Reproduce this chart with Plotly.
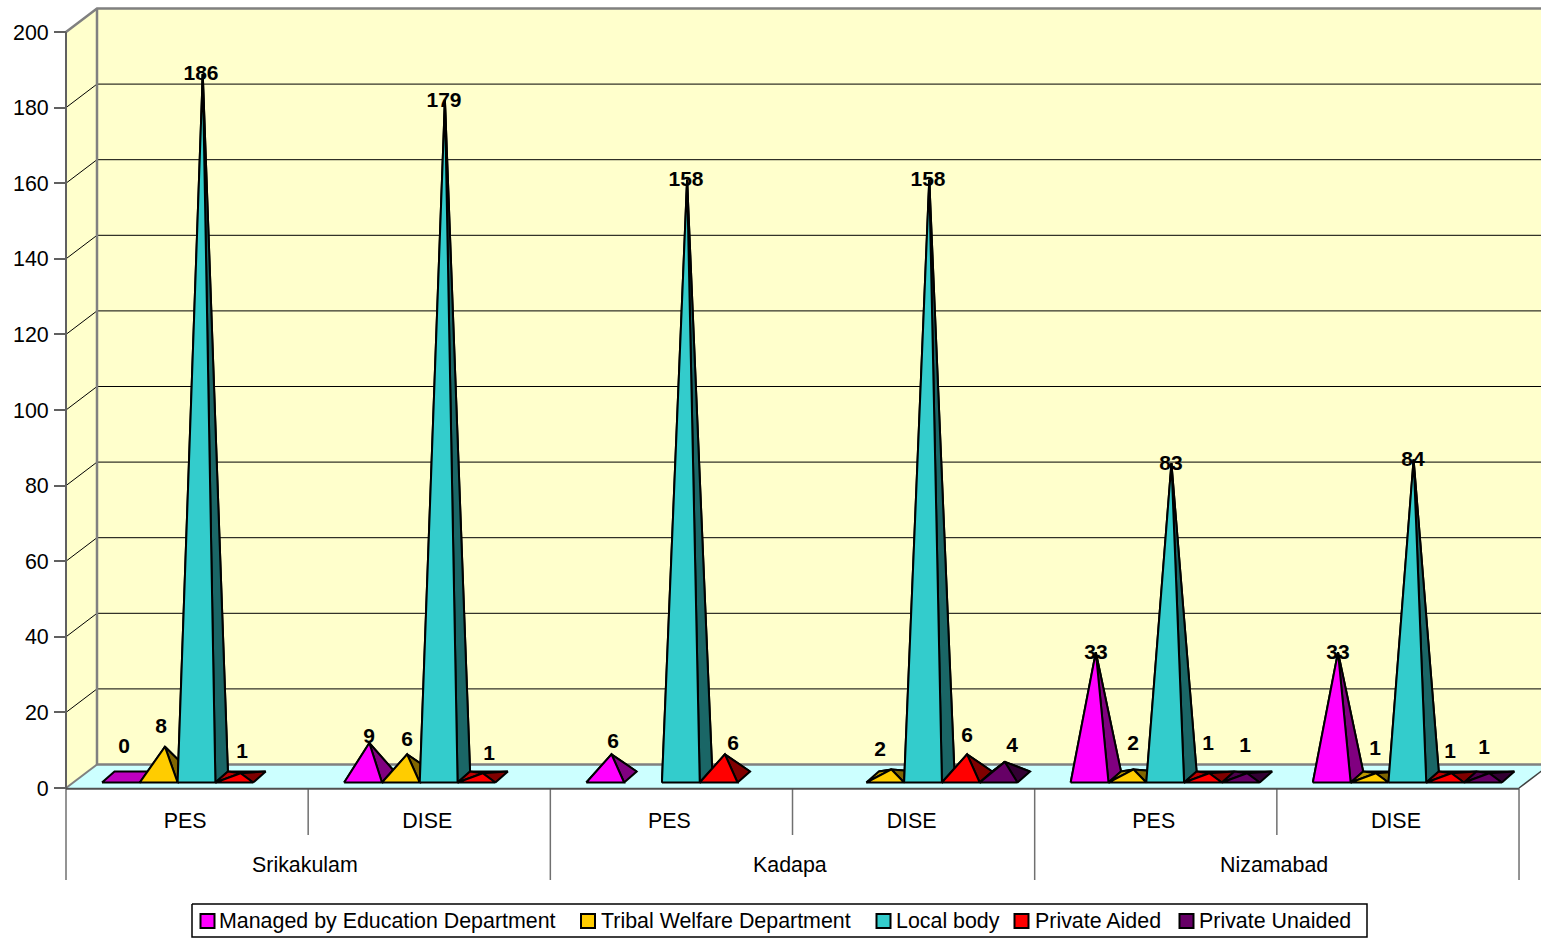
import plotly.graph_objects as go

# ---------- data ----------
districts = ["Srikakulam", "Kadapa", "Nizamabad"]
surveys = ["PES", "DISE", "PES", "DISE", "PES", "DISE"]
y_ticks = [0, 20, 40, 60, 80, 100, 120, 140, 160, 180, 200]

series_names = ["Managed by Education Department", "Tribal Welfare Department",
                "Local body", "Private Aided", "Private Unaided"]
managed = [0, 9, 6, None, 33, 33]
tribal = [8, 6, None, 2, 2, 1]
local_body = [186, 179, 158, 158, 83, 84]
private_aided = [1, 1, 6, 6, 1, 1]
private_unaided = [None, None, None, 4, 1, 1]
series_values = [managed, tribal, local_body, private_aided, private_unaided]

# ---------- style ----------
front_col = ["#FF00FF", "#FFCC00", "#33CCCC", "#FF0000", "#660066"]
left_col = ["#BF00BF", "#BF9900", "#269999", "#BF0000", "#4D004D"]
right_col = ["#800080", "#806600", "#1A6666", "#800000", "#330033"]
WALL = "#FFFFCC"
FLOOR = "#CCFFFF"
EDGE = "#808080"
FONT = "Liberation Sans"
TEXT_SIZE = 21.4
LABEL_SIZE = 21

# label placement, page pixels, per series and category
label_x_px = [[124, 369, 613, None, 1096, 1338],
              [161, 407, None, 880, 1133, 1375],
              [201, 444, 686, 928, 1171, 1413],
              [242, 489, 733, 967, 1208, 1450],
              [None, None, None, 1012, 1245, 1484]]
label_y_px = [[748, 738, 743, None, 654, 654],
              [728, 741, None, 751, 745, 750],
              [75, 102, 181, 181, 465, 461],
              [753, 755, 745, 737, 745, 753],
              [None, None, None, 747, 747, 749]]

# legend placement, page pixels
legend_box_px = (192, 1367, 904, 937)
legend_swatch_x_px = [207.5, 588, 883.5, 1021.5, 1186.5]
legend_text_x_px = [219, 601, 896, 1035, 1199]
legend_y_px = 921

# ---------- scale ----------
W, H = 1541, 938
X0_PX, Y0_PX = 66, 788        # page position of category 0 / value 0
CAT_PX, VAL_PX = 242.17, 3.78  # pixels per category / per value unit


def ux(px):
    return px / CAT_PX


def uy(px):
    return px / VAL_PX


def px_x(px):
    return (px - X0_PX) / CAT_PX


def px_y(px):
    return (Y0_PX - px) / VAL_PX


n_cat = len(surveys)
depth_x, depth_y = ux(31), uy(23.5)
bar_w = ux(37.8)
bar_start = ux(36)
base_dx = ux(12.5)
base_front_y = uy(5.5)
base_back_y = uy(16.5)
base_mid_y = (base_front_y + base_back_y) / 2

fig = go.Figure()


def poly(xs, ys, fill=None, line=EDGE, width=1):
    fig.add_trace(go.Scatter(
        x=xs, y=ys, mode="lines", showlegend=False, hoverinfo="skip", cliponaxis=False,
        fill="toself" if fill else None, fillcolor=fill,
        line=dict(color=line, width=width),
    ))


# walls and floor
top = 200
right_end = n_cat + depth_x
poly([0, depth_x, depth_x, 0, 0], [0, depth_y, top + depth_y, top, 0], WALL, WALL, 0.5)
poly([depth_x, right_end, right_end, depth_x, depth_x],
     [depth_y, depth_y, top + depth_y, top + depth_y, depth_y], WALL, WALL, 0.5)
poly([0, depth_x, right_end, n_cat, 0], [0, depth_y, depth_y, 0, 0], FLOOR, FLOOR, 0.5)

# gridlines
grid_x, grid_y = [], []
for t in y_ticks[1:-1]:
    grid_x += [0, depth_x, right_end, None]
    grid_y += [t, t + depth_y, t + depth_y, None]
poly(grid_x, grid_y, None, "#000000", 1)

# frame edges
poly([0, depth_x, right_end], [top, top + depth_y, top + depth_y], None, EDGE, 2.5)
poly([depth_x, depth_x, right_end], [top + depth_y, depth_y, depth_y], None, EDGE, 2.5)
poly([0, depth_x], [0, depth_y], None, EDGE, 2)
poly([n_cat, right_end], [0, depth_y], None, "#404040", 1.5)

# category separators beneath the floor
low_tall, low_short = px_y(880), px_y(835)
sep_x, sep_y = [], []
for i in range(n_cat + 1):
    sep_x += [i, i, None]
    sep_y += [0, low_tall if i % 2 == 0 else low_short, None]
poly(sep_x, sep_y, None, "#707070", 1.5)
poly([0, 0], [0, top], None, "#606060", 2)
poly([0, n_cat], [-0.2, -0.2], None, "#505050", 2)

# pyramids, painted back to front within each series
for s, values in enumerate(series_values):
    faces = {"back": ([], []), "left": ([], []), "right": ([], []), "front": ([], [])}
    for c, v in enumerate(values):
        if v is None:
            continue
        x0 = c + bar_start + s * bar_w
        x1 = x0 + bar_w
        ax = (x0 + x1 + base_dx) / 2
        ay = base_mid_y + v
        fl = (x0, base_front_y)
        fr = (x1, base_front_y)
        bl = (x0 + base_dx, base_back_y)
        br = (x1 + base_dx, base_back_y)
        ap = (ax, ay)
        if v == 0:
            face_list = [("left", [fl, fr, br, bl])]
        else:
            face_list = [("back", [bl, br, ap]), ("left", [fl, bl, ap]),
                         ("right", [fr, br, ap]), ("front", [fl, fr, ap])]
        for name, pts in face_list:
            fx, fy = faces[name]
            fx += [p[0] for p in pts] + [pts[0][0], None]
            fy += [p[1] for p in pts] + [pts[0][1], None]
    colours = {"back": right_col[s], "left": left_col[s], "right": right_col[s], "front": front_col[s]}
    for name in ["back", "left", "right", "front"]:
        if faces[name][0]:
            poly(faces[name][0], faces[name][1], colours[name], "#000000", 2)

# value labels
for s, values in enumerate(series_values):
    xs, ys, txt = [], [], []
    for c, v in enumerate(values):
        if v is None:
            continue
        xs.append(px_x(label_x_px[s][c]))
        ys.append(px_y(label_y_px[s][c]))
        txt.append(str(v))
    fig.add_trace(go.Scatter(
        x=xs, y=ys, mode="text", text=txt, textposition="middle center",
        textfont=dict(family=FONT, size=LABEL_SIZE, color="#000000"),
        texttemplate="<b>%{text}</b>", showlegend=False, hoverinfo="skip", cliponaxis=False,
    ))

# legend
bx0, bx1, by0, by1 = legend_box_px
poly([px_x(bx0), px_x(bx1), px_x(bx1), px_x(bx0), px_x(bx0)],
     [px_y(by0), px_y(by0), px_y(by1), px_y(by1), px_y(by0)], "#FFFFFF", "#000000", 1.5)
for s, name in enumerate(series_names):
    fig.add_trace(go.Scatter(
        x=[px_x(legend_swatch_x_px[s])], y=[px_y(legend_y_px)], mode="markers", name=name,
        showlegend=False, hoverinfo="skip", cliponaxis=False,
        marker=dict(symbol="square", size=14, color=front_col[s], line=dict(color="#000000", width=2)),
    ))
    fig.add_annotation(x=px_x(legend_text_x_px[s]), y=px_y(legend_y_px), text=name, showarrow=False,
                       xref="x", yref="y", xanchor="left", xshift=-2,
                       font=dict(family=FONT, size=TEXT_SIZE, color="#000000"))

# group labels
for g, name in enumerate(districts):
    fig.add_annotation(x=2 * g + 1 - ux(3), y=px_y(865), text=name, showarrow=False,
                       xref="x", yref="y", font=dict(family=FONT, size=TEXT_SIZE, color="#000000"))

fig.update_layout(
    width=W, height=H, autosize=False,
    margin=dict(l=0, r=0, t=0, b=0, autoexpand=False),
    paper_bgcolor="#FFFFFF", plot_bgcolor="#FFFFFF",
    font=dict(family=FONT, size=TEXT_SIZE, color="#000000"),
    showlegend=False,
    xaxis=dict(range=[px_x(0), px_x(W)], anchor="free", position=1 - 789 / H,
               tickmode="array", tickvals=[i + 0.5 - ux(2) for i in range(n_cat)], ticktext=surveys,
               ticks="outside", ticklen=12, tickcolor="rgba(0,0,0,0)",
               showgrid=False, zeroline=False, showline=False),
    yaxis=dict(range=[px_y(H), px_y(0)], anchor="free", position=X0_PX / W,
               tickmode="array", tickvals=y_ticks, ticktext=[str(t) for t in y_ticks],
               ticks="outside", ticklen=12, tickwidth=1.5, tickcolor="#606060",
               ticklabelstandoff=1,
               showgrid=False, zeroline=False, showline=False),
)

fig.write_html("out.html", config={"displayModeBar": False},
               post_script="document.body.style.margin='0';document.body.style.overflow='hidden';")
